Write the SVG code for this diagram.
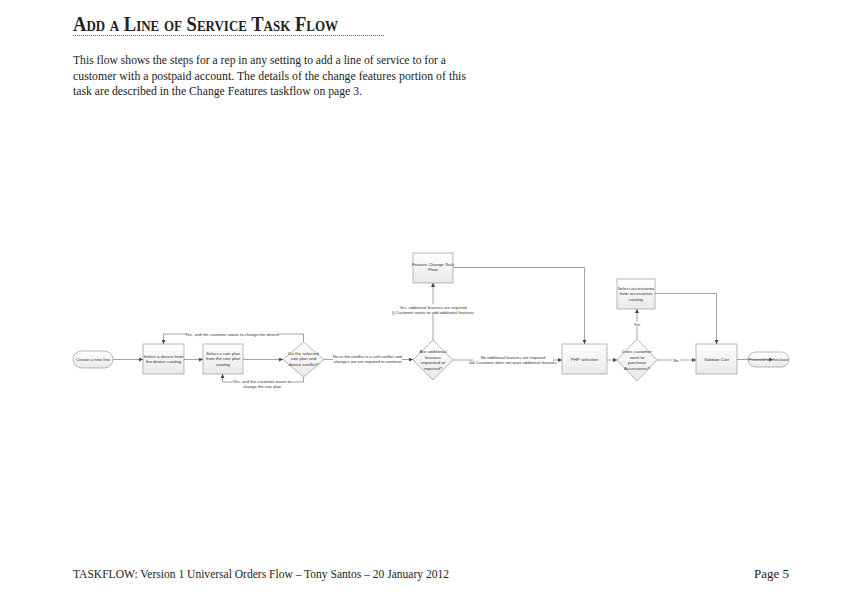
<svg xmlns="http://www.w3.org/2000/svg" width="860" height="600" viewBox="0 0 860 600">
<defs>
<linearGradient id="g" x1="0" y1="0" x2="0" y2="1">
<stop offset="0" stop-color="#ffffff"/>
<stop offset="1" stop-color="#e9e9e9"/>
</linearGradient>
<marker id="ah" viewBox="0 0 10 10" refX="10" refY="5" markerWidth="4" markerHeight="4" orient="auto" markerUnits="userSpaceOnUse">
<path d="M0,0 L10,5 L0,10 z" fill="#444"/>
</marker>
<style>
.shape{fill:url(#g);stroke:#9a9a9a;stroke-width:0.7}
.t{font-family:"Liberation Sans",Arial,sans-serif;font-size:4.4px;fill:#333;text-anchor:middle}
.lbl{font-family:"Liberation Sans",Arial,sans-serif;font-size:4.2px;fill:#333;text-anchor:middle}
.c{fill:none;stroke:#666;stroke-width:0.6}
.bg{fill:#ffffff}
.serif{font-family:"Liberation Serif","Times New Roman",serif;fill:#222}
</style>
</defs>
<rect width="860" height="600" fill="#ffffff"/>

<g id="header">
<text class="serif" x="73" y="31" font-size="20" font-weight="bold" font-variant="small-caps" textLength="265" lengthAdjust="spacingAndGlyphs">Add a Line of Service Task Flow</text>
<line x1="73" y1="35.5" x2="384" y2="35.5" stroke="#666" stroke-width="1" stroke-dasharray="1,1"/>
<text class="serif" x="73" y="64" font-size="13" textLength="373" lengthAdjust="spacingAndGlyphs">This flow shows the steps for a rep in any setting to add a line of service to for a</text>
<text class="serif" x="73" y="79.5" font-size="13" textLength="393" lengthAdjust="spacingAndGlyphs">customer with a postpaid account. The details of the change features portion of this</text>
<text class="serif" x="73" y="95" font-size="13" textLength="289" lengthAdjust="spacingAndGlyphs">task are described in the Change Features taskflow on page 3.</text>
</g>

<g id="n1">
<rect class="shape" x="73" y="351" width="40" height="17" rx="8.5"/>
<text class="t" x="93" y="361">Create a new line</text>
</g>
<g id="n2">
<rect class="shape" x="143" y="344" width="41" height="30"/>
<text class="t" x="163.5" y="357.5">Select a device from</text>
<text class="t" x="163.5" y="363">the device catalog</text>
</g>
<g id="n3">
<rect class="shape" x="203" y="344" width="40" height="30"/>
<text class="t" x="223" y="354.5">Select a rate plan</text>
<text class="t" x="223" y="360">from the rate plan</text>
<text class="t" x="223" y="365.5">catalog</text>
</g>
<g id="d1">
<polygon class="shape" points="303.5,342 324,359.5 303.5,377 283,359.5"/>
<text class="t" x="303.5" y="354.5">Do the selected</text>
<text class="t" x="303.5" y="360">rate plan and</text>
<text class="t" x="303.5" y="365.5">device conflict?</text>
</g>
<g id="d2">
<polygon class="shape" points="433,340 453,360 433,380 413,360"/>
<text class="t" x="433" y="353">Are additional</text>
<text class="t" x="433" y="358.5">features</text>
<text class="t" x="433" y="364">requested or</text>
<text class="t" x="433" y="369.5">required?</text>
</g>
<g id="n4">
<rect class="shape" x="413" y="253" width="40" height="30"/>
<text class="t" x="433" y="265.5">Feature Change Task</text>
<text class="t" x="433" y="271">Flow</text>
</g>
<g id="n5">
<rect class="shape" x="562" y="344" width="45" height="30"/>
<text class="t" x="584.5" y="361">PHP selection</text>
</g>
<g id="d3">
<polygon class="shape" points="637,339 657,360 637,381 617,360"/>
<text class="t" x="637" y="353">Does customer</text>
<text class="t" x="637" y="358.5">want to</text>
<text class="t" x="637" y="364">purchase</text>
<text class="t" x="637" y="369.5">Accessories?</text>
</g>
<g id="n6">
<rect class="shape" x="617" y="279" width="38" height="30"/>
<text class="t" x="636" y="289.5">Select accessories</text>
<text class="t" x="636" y="295">from accessories</text>
<text class="t" x="636" y="300.5">catalog</text>
</g>
<g id="n7">
<rect class="shape" x="696" y="344" width="41" height="30"/>
<text class="t" x="716.5" y="361">Validate Cart</text>
</g>
<g id="n8">
<rect class="shape" x="748" y="352" width="41" height="15" rx="7.5"/>
<text class="t" x="768.5" y="361">Proceed to checkout</text>
</g>

<g id="connectors">
<path class="c" d="M113,359.5 H143" marker-end="url(#ah)"/>
<path class="c" d="M184,359.5 H203" marker-end="url(#ah)"/>
<path class="c" d="M243,359.5 H283" marker-end="url(#ah)"/>
<path class="c" d="M303.5,342 V334 H163.5 V344" marker-end="url(#ah)"/>
<rect class="bg" x="187" y="331.5" width="90" height="5"/>
<text class="lbl" x="232" y="335.5">Yes, and the customer wants to change the device</text>
<path class="c" d="M303.5,377 V382 H222.5 V374" marker-end="url(#ah)"/>
<rect class="bg" x="233" y="379" width="58" height="10"/>
<text class="lbl" x="262" y="383">Yes, and the customer wants to</text>
<text class="lbl" x="262" y="388">change the rate plan</text>
<path class="c" d="M324,359.5 H413" marker-end="url(#ah)"/>
<rect class="bg" x="333" y="354" width="69" height="10"/>
<text class="lbl" x="367.5" y="358">No or the conflict is a soft conflict and</text>
<text class="lbl" x="367.5" y="363">changes are not required to continue</text>
<path class="c" d="M433,340 V283" marker-end="url(#ah)"/>
<rect class="bg" x="392" y="304.5" width="82" height="10"/>
<text class="lbl" x="433" y="308.5">Yes, additional features are required</text>
<text class="lbl" x="433" y="313.5">|| Customer wants to add additional features</text>
<path class="c" d="M453,267.5 H584.5 V344" marker-end="url(#ah)"/>
<path class="c" d="M453,360 H562" marker-end="url(#ah)"/>
<rect class="bg" x="473" y="354.5" width="80" height="10"/>
<text class="lbl" x="513" y="358.5">No additional features are required</text>
<text class="lbl" x="513" y="363.5">&amp;&amp; Customer does not want additional features</text>
<path class="c" d="M607,360 H617" marker-end="url(#ah)"/>
<path class="c" d="M637,339 V309" marker-end="url(#ah)"/>
<rect class="bg" x="632" y="321.5" width="10" height="5"/>
<text class="lbl" x="637" y="325.5">Yes</text>
<path class="c" d="M655,293.5 H716.5 V344" marker-end="url(#ah)"/>
<path class="c" d="M657,360 H696" marker-end="url(#ah)"/>
<rect class="bg" x="672" y="357.5" width="8" height="5"/>
<text class="lbl" x="676" y="361.5">No</text>
<path class="c" d="M737,359.5 H773" marker-end="url(#ah)"/>
</g>

<g id="footer">
<text class="serif" x="73" y="578" font-size="13" textLength="376" lengthAdjust="spacingAndGlyphs">TASKFLOW: Version 1 Universal Orders Flow – Tony Santos – 20 January 2012</text>
<text class="serif" x="789" y="578" font-size="13" text-anchor="end">Page 5</text>
</g>
</svg>
